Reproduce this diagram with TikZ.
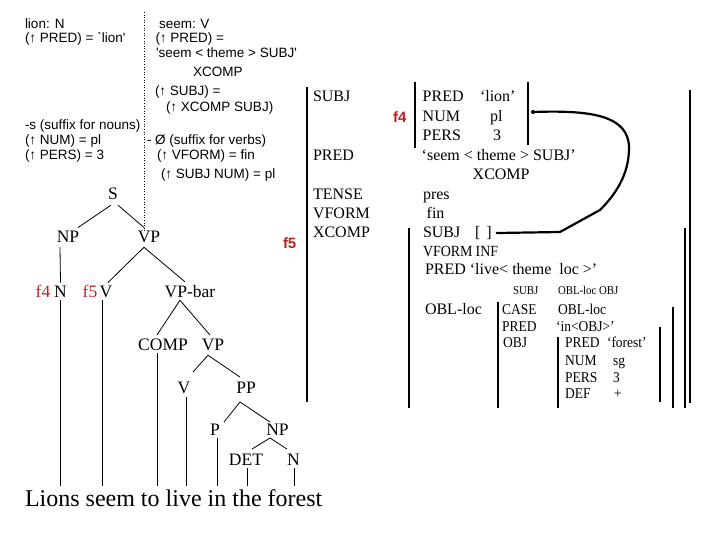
\documentclass[tikz,border=0pt]{standalone}
\usepackage{fontspec}
\setmainfont{Liberation Serif}
\newfontfamily\arial{Liberation Sans}[Ligatures=TeXOff]
\newfontfamily\cserif{Liberation Serif}[FakeStretch=0.9,Ligatures=TeX]
\definecolor{fred}{RGB}{192,32,32}
\begin{document}
\begin{tikzpicture}[x=1pt,y=-1pt,
  lex/.style={font=\arial\fontsize{13.5}{16}\selectfont, anchor=base west, inner sep=0pt, outer sep=0pt},
  tr/.style={font=\fontsize{17.5}{20}\selectfont, anchor=base, inner sep=0pt, outer sep=0pt},
  trf/.style={tr, text=fred},
  fs/.style={font=\fontsize{16}{18}\selectfont, anchor=base west, inner sep=0pt, outer sep=0pt},
  fsn/.style={font=\cserif\fontsize{15.5}{18}\selectfont, anchor=base west, inner sep=0pt, outer sep=0pt},
  fsl/.style={font=\cserif\fontsize{15}{17}\selectfont, anchor=base west, inner sep=0pt, outer sep=0pt},
  fsm/.style={font=\cserif\fontsize{12}{14}\selectfont, anchor=base west, inner sep=0pt, outer sep=0pt},
  flab/.style={font=\arial\bfseries\fontsize{15}{18}\selectfont, text=fred, anchor=base west, inner sep=0pt, outer sep=0pt},
  edge/.style={line width=0.8pt},
  brk/.style={line width=1.1pt},
  link/.style={line width=2.2pt, line join=round, line cap=round},
]
\useasboundingbox (0,0) rectangle (720,540);
\fill[white] (0,0) rectangle (720,540);

% lexical entries
\node[lex] (l1) at (25,29) {lion:\hspace{5pt}N};
\node[lex] (l2) at (25,42.5) {(↑ PRED) = `lion'};
\node[lex] (s1) at (159,29) {seem:\hspace{4.5pt}V};
\node[lex] (s2) at (155.5,42.5) {(↑ PRED) =};
\node[lex] (s3) at (156,58) {'seem < theme > SUBJ'};
\node[lex] (s4) at (193,77) {XCOMP};
\node[lex] (s5) at (155,95.5) {(↑ SUBJ) =};
\node[lex] (s6) at (166,112) {(↑ XCOMP SUBJ)};
\node[lex] (n1) at (25,129.5) {-s (suffix for nouns)};
\node[lex] (n2) at (25,144.5) {(↑ NUM) = pl};
\node[lex] (n3) at (25,160) {(↑ PERS) = 3};
\node[lex] (v1) at (147,144.5) {- Ø (suffix for verbs)};
\node[lex] (v2) at (157,160) {(↑ VFORM) = fin};
\node[lex] (v3) at (161,179) {(↑ SUBJ NUM) = pl};

% tree
\node[tr] (S) at (113,200) {S};
\node[tr] (NP1) at (68,243) {NP};
\node[tr] (VP1) at (149,243) {VP};
\node[trf] (f4t) at (43,297) {f4};
\node[tr] (N1) at (60.5,297) {N};
\node[trf] (f5t) at (90,297) {f5};
\node[tr] (V1) at (106,297) {V};
\node[tr] (VPb) at (190,297) {VP-bar};
\node[tr] (COMP) at (163,350.5) {COMP};
\node[tr] (VP2) at (213,350.5) {VP};
\node[tr] (V2) at (184,393) {V};
\node[tr] (PP) at (246,393) {PP};
\node[tr] (P) at (215,435) {P};
\node[tr] (NP2) at (277.5,435) {NP};
\node[tr] (DET) at (246,465) {DET};
\node[tr] (N2) at (293.5,465) {N};
\node[font=\fontsize{24}{26}\selectfont, anchor=base west, inner sep=0pt, outer sep=0pt] (sent) at (25,506) {Lions seem to live in the forest};

\coordinate (ltop) at (144,12);
\draw[dotted, line width=0.6pt] (ltop) -- (ltop |- VP1.north);

\draw[edge] ([shift={(-2,5)}]S.south) -- ([shift={(10,-4)}]NP1.north);
\draw[edge] ([shift={(5,5)}]S.south) -- ([shift={(-5,-4)}]VP1.north);
\draw[edge] ([shift={(-8,4)}]NP1.south) -- ([shift={(0,-3)}]N1.north);
\draw[edge] ([shift={(-5,4)}]VP1.south) -- ([shift={(2,-3)}]V1.north);
\draw[edge] ([shift={(-5,4)}]VP1.south) -- ([shift={(-5,-3)}]VPb.north);
\draw[edge] ([shift={(-10,3)}]VPb.south) -- ([shift={(-6,-4)}]COMP.north);
\draw[edge] ([shift={(-10,3)}]VPb.south) -- ([shift={(-3,-4)}]VP2.north);
\draw[edge] ([shift={(-5,4.5)}]VP2.south) -- ([shift={(9,-9.5)}]V2.north);
\draw[edge] ([shift={(-5,4.5)}]VP2.south) -- ([shift={(-6,-4.5)}]PP.north);
\draw[edge] ([shift={(-6,9)}]PP.south) -- ([shift={(9,-1.5)}]P.north);
\draw[edge] ([shift={(-6,9)}]PP.south) -- ([shift={(-7.5,-1.5)}]NP2.north);
\draw[edge] ([shift={(-7.5,3)}]NP2.south) -- ([shift={(6,-4.5)}]DET.north);
\draw[edge] ([shift={(-7.5,3)}]NP2.south) -- ([shift={(-6.5,-4.5)}]N2.north);

\draw[edge, shorten >=3pt] ([shift={(0,3)}]N1.south) -- (N1.south |- sent.north);
\draw[edge, shorten >=3pt] ([shift={(-4,3)}]V1.south) -- ([xshift=-4pt]V1.south |- sent.north);
\draw[edge, shorten >=3pt] ([shift={(-6,2)}]COMP.south) -- ([xshift=-6pt]COMP.south |- sent.north);
\draw[edge, shorten >=3pt] ([shift={(2,4)}]V2.south) -- ([xshift=2pt]V2.south |- sent.north);
\draw[edge, shorten >=3pt] ([shift={(2,3)}]P.south) -- ([xshift=2pt]P.south |- sent.north);
\draw[edge, shorten >=3pt] ([shift={(1,3)}]DET.south) -- ([xshift=1pt]DET.south |- sent.north);
\draw[edge, shorten >=3pt] ([shift={(0.5,3)}]N2.south) -- ([xshift=0.5pt]N2.south |- sent.north);

% f-structure
\node[fs] (subj) at (313,102) {SUBJ};
\node[fs] (pred) at (313,161) {PRED};
\node[fs] (tense) at (313,199.5) {TENSE};
\node[fs] (vform) at (313,218.5) {VFORM};
\node[fs] (xcomp) at (313,237.5) {XCOMP};
\node[flab] (f5f) at (283,248) {f5};
\node[flab] (f4f) at (393,123) {f4};

\node[fs] (a1) at (422.7,102) {PRED};
\node[fs] (a2) at (480,102) {`lion'};
\node[fs] (a3) at (422.7,122) {NUM};
\node[fs] (a4) at (490,122) {pl};
\node[fs] (a5) at (422.7,141) {PERS};
\node[fs] (a6) at (493,141) {3};
\node[fs] (b1) at (421.7,161) {`seem < theme > SUBJ'};
\node[fs] (b2) at (472.7,180) {XCOMP};
\node[fs] (b3) at (423,199.5) {pres};
\node[fs] (b4) at (426.7,218.5) {fin};
\node[fs] (c1) at (423,237.5) {SUBJ};
\node[fs] (subjbr) at (475,237.5) {[\hspace{6pt}]};
\node[fsn] (c2) at (423,256) {VFORM\hspace{3pt}INF};
\node[fs] (c4) at (425,274) {PRED `live< theme\ \ loc >'};
\node[fsm] (c5) at (513,294) {SUBJ};
\node[fsm] (c6) at (558,294) {OBL-loc OBJ};
\node[fs] (d1) at (425,314) {OBL-loc};
\node[fsl] (d2) at (502,314) {CASE};
\node[fsl] (d3) at (558,314) {OBL-loc};
\node[fsl] (d4) at (502,331.5) {PRED};
\node[fsl] (d5) at (556,331.5) {`in<OBJ>'};
\node[fsl] (d6) at (503,347.5) {OBJ};
\node[fsl] (e1) at (565,347.5) {PRED};
\node[fsl] (e2) at (607,347.5) {`forest'};
\node[fsl] (e3) at (565,365) {NUM};
\node[fsl] (e4) at (613,365) {sg};
\node[fsl] (e5) at (565,382) {PERS};
\node[fsl] (e6) at (613,382) {3};
\node[fsl] (e7) at (565,398.5) {DEF};
\node[fsl] (e8) at (614,398.5) {+};

% brackets
\draw[brk] (307,87) -- (307,402);
\draw[brk] (690,90) -- (690,403);
\draw[brk] (415,82) -- (415,148);
\draw[brk] (528,82) -- (528,145);
\draw[brk] (409,228) -- (409,408);
\draw[brk] (685,228) -- (685,408);
\draw[brk] (498,302) -- (498,408);
\draw[brk] (673,307) -- (673,408);
\draw[brk] (558,337) -- (558,408);
\draw[brk] (660,327) -- (660,402);

% structure sharing link
\coordinate (f4link) at (533,112);
\fill (f4link) circle[radius=2pt];
\draw[link] (f4link) .. controls (590,110) and (629,115) .. (629,148)
  .. controls (629,175) and (615,195) .. (600,210) -- (560,232) -- ([xshift=5pt]subjbr.east);
\end{tikzpicture}
\end{document}
